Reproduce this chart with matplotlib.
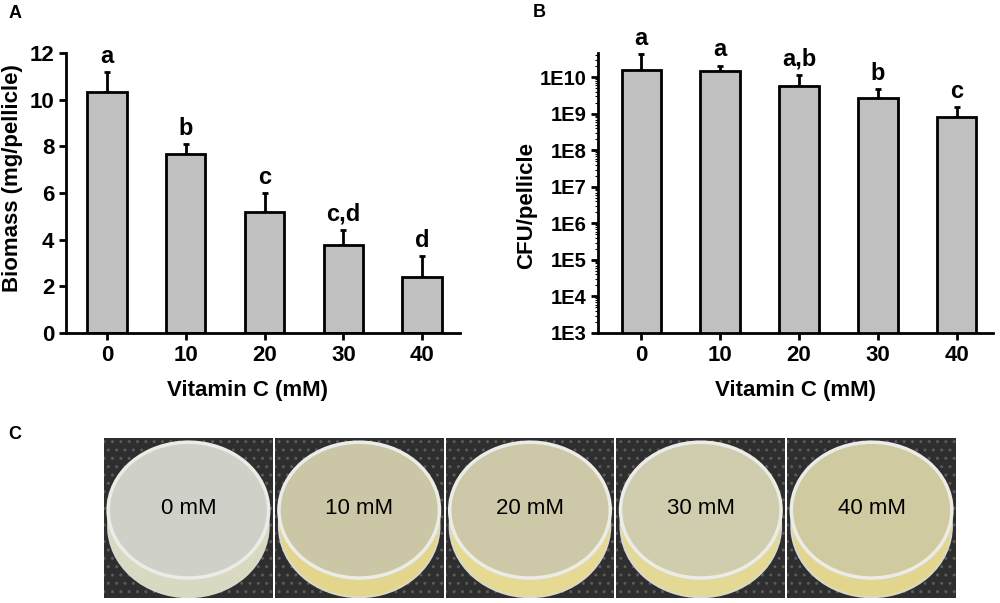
import matplotlib.pyplot as plt
import numpy as np
from matplotlib.patches import Ellipse, Rectangle
from matplotlib.ticker import FixedLocator, LogLocator, NullFormatter

# data
vitamin_c = [0, 10, 20, 30, 40]
biomass = [10.33, 7.69, 5.21, 3.79, 2.39]
biomass_err = [0.86, 0.42, 0.79, 0.64, 0.92]
biomass_letters = ["a", "b", "c", "c,d", "d"]

cfu = [1.6e10, 1.46e10, 5.7e9, 2.7e9, 8.0e8]
cfu_err = [2.8e10, 0.64e10, 0.61e10, 2.2e9, 0.7e9]
cfu_letters = ["a", "a", "a,b", "b", "c"]
cfu_ticks = [1e3, 1e4, 1e5, 1e6, 1e7, 1e8, 1e9, 1e10]
cfu_ticklabels = ["1E3", "1E4", "1E5", "1E6", "1E7", "1E8", "1E9", "1E10"]

dish_labels = ["0 mM", "10 mM", "20 mM", "30 mM", "40 mM"]
dish_surface = ["#cfd1c9", "#cac6a6", "#cdc9a8", "#d0cdaf", "#cfcaa0"]
dish_base = ["#d8d9c0", "#e3d68c", "#e6da92", "#e3d894", "#e2d68e"]

plt.rcParams['font.family'] = ['Liberation Sans', 'DejaVu Sans']

fig = plt.figure(figsize=(10, 6.03), dpi=100)

bar_kw = dict(width=5.0, color="#c0c0c0", edgecolor="black", linewidth=2.0, zorder=2)
lw = 2.0
fs = 16


def style_axes(ax):
    for s in ["top", "right"]:
        ax.spines[s].set_visible(False)
    for s in ["left", "bottom"]:
        ax.spines[s].set_linewidth(lw)
    ax.tick_params(axis="both", which="major", width=lw, length=5, labelsize=fs, direction="out")
    ax.set_xticks(vitamin_c)
    ax.set_xticklabels([str(v) for v in vitamin_c], fontweight="bold")
    ax.set_xlabel("Vitamin C (mM)", fontsize=fs, fontweight="bold")


# ---- Panel A ----
axA = fig.add_axes([0.066, 0.4478, 0.394, 0.464])
axA.bar(vitamin_c, biomass, **bar_kw)
axA.errorbar(vitamin_c, biomass, yerr=[np.zeros(5), biomass_err], fmt="none",
             ecolor="black", elinewidth=lw, capsize=2.5, capthick=lw, zorder=1)
for x, y, e, t in zip(vitamin_c, biomass, biomass_err, biomass_letters):
    axA.annotate(t, (x, y + e), xytext=(0, 3), textcoords="offset points",
                 ha="center", va="bottom", fontsize=17, fontweight="bold")
axA.set_xlim(-5.2, 44.8)
axA.set_ylim(0, 12)
axA.set_yticks([0, 2, 4, 6, 8, 10, 12])
style_axes(axA)
axA.set_yticklabels(axA.get_yticks().astype(int), fontweight="bold")
axA.set_ylabel("Biomass (mg/pellicle)", fontsize=fs, fontweight="bold")
axA.yaxis.set_label_coords(-0.109, 0.554)
axA.xaxis.set_label_coords(0.46, -0.168)

# ---- Panel B ----
axB = fig.add_axes([0.598, 0.4478, 0.395, 0.464])
axB.set_yscale("log")
axB.bar(vitamin_c, cfu, bottom=0, **bar_kw)
axB.errorbar(vitamin_c, cfu, yerr=[np.zeros(5), cfu_err], fmt="none",
             ecolor="black", elinewidth=lw, capsize=2.5, capthick=lw, zorder=1)
for x, y, e, t in zip(vitamin_c, cfu, cfu_err, cfu_letters):
    axB.annotate(t, (x, y + e), xytext=(0, 3), textcoords="offset points",
                 ha="center", va="bottom", fontsize=17, fontweight="bold")
axB.set_xlim(-5.5, 44.6)
axB.set_ylim(1e3, 4.6e10)
style_axes(axB)
axB.yaxis.set_major_locator(FixedLocator(cfu_ticks))
axB.set_yticklabels(cfu_ticklabels, fontweight="bold")
axB.tick_params(axis="y", which="major", labelsize=14.5)
axB.yaxis.set_minor_locator(LogLocator(base=10, subs=np.arange(2, 10), numticks=20))
axB.yaxis.set_minor_formatter(NullFormatter())
axB.tick_params(axis="y", which="minor", length=2.5, width=0.8)
axB.set_ylabel("CFU/pellicle", fontsize=fs, fontweight="bold")
axB.yaxis.set_label_coords(-0.154, 0.457)
axB.xaxis.set_label_coords(0.5, -0.168)

# ---- Panel C (photo strip, drawn) ----
axC = fig.add_axes([0.103, 0.0083, 0.854, 0.265])
axC.set_xlim(0, 5)
axC.set_ylim(0, 1)
axC.axis("off")
for i, lab in enumerate(dish_labels):
    axC.add_patch(Rectangle((i + 0.006, 0), 0.988, 1, facecolor="#2e2e2e",
                            edgecolor="#5a5a5a", hatch="..", linewidth=0, zorder=1))
    cx = i + 0.5
    axC.add_patch(Ellipse((cx, 0.45), 0.94, 0.89, facecolor=dish_base[i],
                          edgecolor="#d8d8d0", linewidth=1.5, zorder=2))
    axC.add_patch(Ellipse((cx, 0.55), 0.94, 0.85, facecolor=dish_surface[i],
                          edgecolor="#ececE6", linewidth=2.5, zorder=3))
    axC.text(cx, 0.56, lab, ha="center", va="center", fontsize=16, zorder=4)

# panel labels
fig.text(0.009, 0.978, "A", fontsize=13, fontweight="bold", va="center")
fig.text(0.533, 0.98, "B", fontsize=13, fontweight="bold", va="center")
fig.text(0.008, 0.280, "C", fontsize=13, fontweight="bold", va="center")

fig.savefig("out.png", dpi=100)
